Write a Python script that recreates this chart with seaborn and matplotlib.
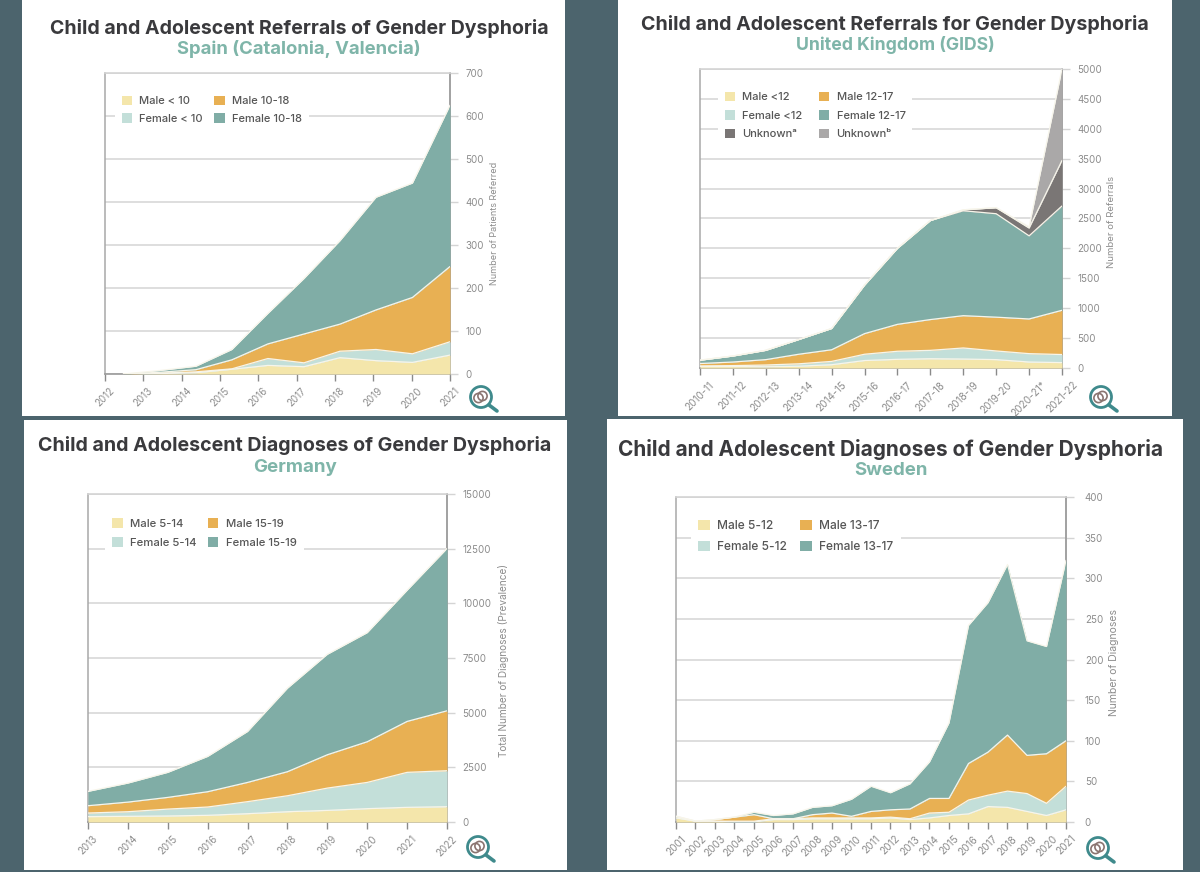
import numpy as np
import seaborn as sns
import matplotlib.pyplot as plt
from matplotlib.patches import Rectangle, Circle, Patch

W, H = 1200, 872

# Spain
spain_ticks = [2012, 2013, 2014, 2015, 2016, 2017, 2018, 2019, 2020, 2021]
spain_x = [2012.48, 2013.42, 2014.37, 2015.31, 2016.25, 2017.19, 2018.13, 2019.07, 2020.02, 2021]
spain_male_young = [0, 1, 3, 11, 20, 17, 38, 31, 27, 44]
spain_female_young = [0, 1, 2, 1, 16, 9, 15, 26, 20, 31]
spain_male_old = [0, 2, 5, 21, 34, 67, 63, 92, 131, 175]
spain_female_old = [0, 4, 8, 24, 71, 129, 194, 262, 266, 375]
spain_yticks = [0, 100, 200, 300, 400, 500, 600, 700]
spain_labels = ['Male < 10', 'Female < 10', 'Male 10-18', 'Female 10-18']

# UK
uk_ticks = ['2010-11', '2011-12', '2012-13', '2013-14', '2014-15', '2015-16',
            '2016-17', '2017-18', '2018-19', '2019-20', '2020-21*', '2021-22']
uk_male_young = [25, 25, 20, 30, 55, 125, 145, 155, 150, 140, 100, 90]
uk_female_young = [10, 15, 30, 40, 55, 105, 135, 140, 185, 145, 140, 135]
uk_male_old = [40, 60, 90, 160, 195, 345, 450, 515, 540, 565, 580, 740]
uk_female_old = [55, 100, 155, 245, 355, 810, 1270, 1655, 1755, 1730, 1390, 1745]
uk_unknown_a = [0, 0, 0, 0, 0, 0, 0, 0, 15, 100, 130, 760]
uk_unknown_b = [0, 0, 0, 0, 0, 0, 0, 0, 0, 0, 20, 1530]
uk_yticks = [0, 500, 1000, 1500, 2000, 2500, 3000, 3500, 4000, 4500, 5000]
uk_labels = ['Male <12', 'Female <12', 'Unknownᵃ', 'Male 12-17', 'Female 12-17', 'Unknownᵇ']

# Germany
de_ticks = [2013, 2014, 2015, 2016, 2017, 2018, 2019, 2020, 2021, 2022]
de_male_young = [245, 260, 275, 305, 380, 470, 530, 610, 670, 700]
de_female_young = [165, 210, 315, 380, 550, 730, 1020, 1200, 1600, 1645]
de_male_old = [335, 440, 535, 700, 880, 1100, 1525, 1860, 2330, 2740]
de_female_old = [655, 870, 1145, 1615, 2330, 3820, 4595, 4990, 6000, 7425]
de_yticks = [0, 2500, 5000, 7500, 10000, 12500, 15000]
de_labels = ['Male 5-14', 'Female 5-14', 'Male 15-19', 'Female 15-19']

# Sweden
se_ticks = list(range(2001, 2022))
se_male_young = [5, 1, 1, 0, 0, 3, 3, 4, 4, 4, 4, 5, 3, 5, 8, 10, 19, 18, 13, 8, 15]
se_female_young = [2, 0, 0, 1, 1, 1, 1, 1, 1, 1, 1, 1, 1, 6, 4, 17, 14, 20, 22, 15, 29]
se_male_old = [0, 0, 2, 5, 8, 0, 0, 4, 6, 2, 8, 9, 12, 18, 17, 45, 53, 69, 47, 61, 56]
se_female_old = [0, 0, 0, 0, 3, 4, 6, 9, 9, 21, 31, 21, 31, 45, 93, 170, 184, 210, 141, 132, 222]
se_yticks = [0, 50, 100, 150, 200, 250, 300, 350, 400]
se_labels = ['Male 5-12', 'Female 5-12', 'Male 13-17', 'Female 13-17']

sns.set_theme(style='white')
plt.rcParams['font.family'] = ['Inter', 'DejaVu Sans']

yellow, pale_teal, orange, teal, dark_grey, light_grey = sns.color_palette(
    ['#f4e6ab', '#c3dfd9', '#e8b053', '#80ada6', '#7a7675', '#aaa8a8'])
TITLE_COL = '#3a3a3d'
SUB_COL = '#7fb5a9'
LABEL_COL = '#8c8c8c'
LEG_COL = '#565656'

fig = plt.figure(figsize=(W / 100, H / 100), dpi=100, facecolor='#4c646d')

# overlay in pixel coords for panels, titles and the logos
bg = fig.add_axes([0, 0, 1, 1], zorder=0)
bg.set_xlim(0, W)
bg.set_ylim(H, 0)
bg.axis('off')
top = fig.add_axes([0, 0, 1, 1], zorder=5)
top.set_xlim(0, W)
top.set_ylim(H, 0)
top.axis('off')
top.patch.set_alpha(0)


def logo(cx, cy):
    top.plot([cx + 8, cx + 16], [cy + 8, cy + 14], color='#3f8a8c', lw=2.6, solid_capstyle='round')
    top.add_patch(Circle((cx, cy), 10.5, fill=False, ec='#3f8a8c', lw=2.0))
    top.add_patch(Circle((cx - 2.5, cy + 1), 4.6, fill=False, ec='#8a7470', lw=1.2))
    top.add_patch(Circle((cx + 1.5, cy - 1), 4.6, fill=False, ec='#8a7470', lw=1.2))


def legend_cols(colors):
    # legend fills column by column, stack order runs across the rows
    if len(colors) == 4:
        return colors
    return [colors[0], colors[1], colors[4], colors[2], colors[3], colors[5]]


def panel(box, axbox, title, title_xy, title_fs, sub, sub_y, sub_fs, series, colors, x, ticks,
          ticklabels, xt_fs, yticks, ypad, ylabel, ylabel_xy, yl_fs, labels, leg_xy, leg_fs,
          leg_space, col_space, logo_xy):
    x0, y0, x1, y1 = box
    bg.add_patch(Rectangle((x0, y0), x1 - x0, y1 - y0, fc='white', ec='none'))
    top.text(title_xy[0], title_xy[1], title, ha='center', va='center', fontsize=title_fs,
             fontweight='bold', color=TITLE_COL)
    top.text(title_xy[0], sub_y, sub, ha='center', va='center', fontsize=sub_fs,
             fontweight='bold', color=SUB_COL)

    l, t, r, b = axbox
    ax = fig.add_axes([l / W, 1 - b / H, (r - l) / W, (b - t) / H], zorder=2)
    ax.stackplot(x, *series, colors=colors, lw=0, zorder=3)
    cum = np.cumsum(series, axis=0)
    for row in cum:
        sns.lineplot(x=x, y=row, color='#f7f5ea', lw=0.9, ax=ax, legend=False, zorder=4)

    ax.set_xlim(ticks[0], ticks[-1])
    ax.set_ylim(yticks[0], yticks[-1])
    ax.set_xticks(ticks)
    ax.set_xticklabels(ticklabels, rotation=45, ha='center', fontsize=xt_fs, color=LABEL_COL)
    ax.yaxis.tick_right()
    ax.set_yticks(yticks)
    ax.set_yticklabels([str(v) for v in yticks], fontsize=7, color=LABEL_COL)
    ax.tick_params(axis='x', length=5, width=1, color='#8a8a8a', pad=3.5, bottom=True)
    ax.tick_params(axis='y', length=6, width=1, color='#d4d4d4', pad=ypad, right=True)
    ax.yaxis.grid(True, color='#d8d8d8', lw=1.2, zorder=1)
    ax.set_axisbelow(True)

    for name, col, lw in [('left', '#a8a8a8', 1.1), ('right', '#9a9a9a', 1.3),
                          ('top', '#d4d4d4', 1.2), ('bottom', '#9a9a9a', 1.2)]:
        ax.spines[name].set_visible(True)
        ax.spines[name].set_color(col)
        ax.spines[name].set_linewidth(lw)

    ax.yaxis.set_label_position('right')
    ax.set_ylabel(ylabel, fontsize=yl_fs, color=LABEL_COL, rotation=90, va='center')
    ax.yaxis.set_label_coords((ylabel_xy[0] - l) / (r - l), 1 - (ylabel_xy[1] - t) / (b - t))

    handles = [Patch(fc=c, ec='none') for c in legend_cols(colors)]
    lx = (leg_xy[0] - l) / (r - l)
    ly = 1 - (leg_xy[1] - t) / (b - t)
    leg = ax.legend(handles, labels, ncols=2, loc='upper left', bbox_to_anchor=(lx, ly),
                    borderaxespad=0, borderpad=0.6, frameon=True, facecolor='white',
                    edgecolor='none', framealpha=1, fancybox=False,
                    prop={'size': leg_fs, 'weight': 'medium'},
                    handlelength=0.95, handleheight=0.95, handletextpad=0.65,
                    columnspacing=col_space, labelspacing=leg_space, labelcolor=LEG_COL)
    leg.set_zorder(2.5)
    logo(*logo_xy)
    return ax


four = [yellow, pale_teal, orange, teal]

panel((22, 0, 565, 416), (105, 73, 450, 374),
      'Child and Adolescent Referrals of Gender Dysphoria', (299, 29), 14.05,
      'Spain (Catalonia, Valencia)', 49, 13.3,
      [spain_male_young, spain_female_young, spain_male_old, spain_female_old], four,
      spain_x, spain_ticks, spain_ticks, 7.0, spain_yticks, 5,
      'Number of Patients Referred', (495, 223), 6.5,
      spain_labels, (115, 89), 8.0, 0.62, 1.0, (481, 397))

panel((618, 0, 1172, 416), (700, 69, 1062, 368),
      'Child and Adolescent Referrals for Gender Dysphoria', (895, 25), 14.15,
      'United Kingdom (GIDS)', 45, 12.7,
      [uk_male_young, uk_female_young, uk_male_old, uk_female_old, uk_unknown_a, uk_unknown_b],
      four + [dark_grey, light_grey],
      list(range(12)), list(range(12)), uk_ticks, 7.2, uk_yticks, 5,
      'Number of Referrals', (1111, 222), 6.9,
      uk_labels, (718, 85), 8.0, 0.72, 1.45, (1101, 397))

panel((24, 420, 567, 870), (88, 494, 447, 822),
      'Child and Adolescent Diagnoses of Gender Dysphoria', (295, 445), 14.15,
      'Germany', 467, 13.5,
      [de_male_young, de_female_young, de_male_old, de_female_old], four,
      de_ticks, de_ticks, de_ticks, 7.0, de_yticks, 5,
      'Total Number of Diagnoses (Prevalence)', (503, 660), 7.25,
      de_labels, (105, 511), 8.15, 0.76, 1.0, (478, 847))

panel((607, 419, 1183, 870), (676, 497, 1066, 822),
      'Child and Adolescent Diagnoses of Gender Dysphoria', (891, 449), 15.0,
      'Sweden', 470, 13.4,
      [se_male_young, se_female_young, se_male_old, se_female_old], four,
      se_ticks, se_ticks, se_ticks, 7.3, se_yticks, 7.5,
      'Number of Diagnoses', (1114, 663), 7.5,
      se_labels, (691, 513), 8.6, 0.68, 1.1, (1098, 848))

fig.savefig('out.png', dpi=100, facecolor=fig.get_facecolor())
